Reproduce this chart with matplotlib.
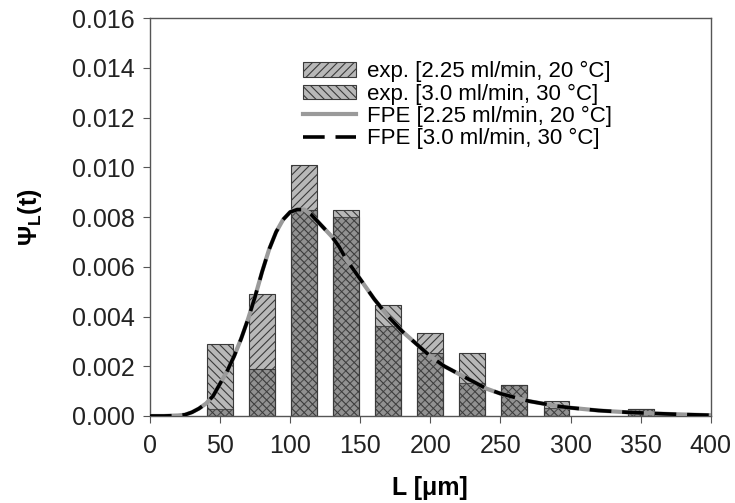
import numpy as np
import matplotlib
matplotlib.use("Agg")
import matplotlib.pyplot as plt

plt.rcParams["font.family"] = ["Liberation Sans", "DejaVu Sans"]
plt.rcParams["mathtext.fontset"] = "custom"
plt.rcParams["mathtext.rm"] = "Liberation Sans"
plt.rcParams["mathtext.bf"] = "Liberation Sans:bold"
plt.rcParams["hatch.linewidth"] = 0.8

# histogram bins (centre of class, µm)
bins = [50, 80, 110, 140, 170, 200, 230, 260, 290, 350]
exp_20 = [0.0003, 0.0049, 0.0101, 0.0080, 0.00362, 0.00333, 0.00133, 0.00125, 0.00032, 0.00030]
exp_30 = [0.0029, 0.0019, 0.0083, 0.0083, 0.00447, 0.00253, 0.00255, 0.00125, 0.00062, 0.00030]

# FPE model curves
L_fpe = [0, 10, 20, 25, 30, 35, 40, 45, 50, 55, 60, 65, 70, 75, 80, 85, 90, 95,
         100, 105, 110, 115, 120, 125, 130, 135, 140, 145, 150, 160, 170, 180,
         190, 200, 210, 220, 230, 240, 250, 260, 270, 280, 290, 300, 320, 340,
         360, 380, 400]
fpe_20 = [0, 0, 0.00002, 0.00005, 0.00015, 0.0003, 0.0005, 0.0008, 0.0013, 0.0018,
          0.0024, 0.0031, 0.0039, 0.0048, 0.0058, 0.0067, 0.0074, 0.0079, 0.0082,
          0.0083, 0.0083, 0.0081, 0.0078, 0.0075, 0.0072, 0.0068, 0.0063, 0.0059,
          0.0055, 0.0047, 0.0040, 0.0034, 0.0029, 0.0024, 0.0020, 0.0017, 0.0014,
          0.0011, 0.0009, 0.00075, 0.0006, 0.0005, 0.0004, 0.00033, 0.00022,
          0.00015, 0.0001, 0.00006, 0.00003]
fpe_30 = list(fpe_20)

labels = ["exp. [2.25 ml/min, 20 °C]", "exp. [3.0 ml/min, 30 °C]",
          "FPE [2.25 ml/min, 20 °C]", "FPE [3.0 ml/min, 30 °C]"]

fig = plt.figure(figsize=(7.35, 5.03), dpi=100)
ax = fig.add_axes([0.204, 0.173, 0.763, 0.791])

face = (0.39, 0.39, 0.39, 0.45)
b1 = ax.bar(bins, exp_20, width=18.5, facecolor=face, edgecolor="#3a3a3a",
            hatch="////", linewidth=0.8, label=labels[0], zorder=2)
b2 = ax.bar(bins, exp_30, width=18.5, facecolor=face, edgecolor="#3a3a3a",
            hatch="\\\\\\\\", linewidth=0.8, label=labels[1], zorder=2)
l1, = ax.plot(L_fpe, fpe_20, color="#9a9a9a", lw=3, label=labels[2], zorder=3)
l2, = ax.plot(L_fpe, fpe_30, color="black", lw=2.6, dashes=(6, 3),
              label=labels[3], zorder=4)

ax.set_xlim(0, 400)
ax.set_ylim(0, 0.016)
ax.set_xticks(np.arange(0, 401, 50))
ax.set_yticks(np.arange(0, 0.0161, 0.002))
ax.yaxis.set_major_formatter(matplotlib.ticker.FormatStrFormatter("%.3f"))
ax.tick_params(direction="out", length=5, width=0.8, labelsize=18, pad=6,
               colors="#555555", labelcolor="#222222")
ax.tick_params(axis="x", pad=8)
for s in ax.spines.values():
    s.set_color("#555555")
    s.set_linewidth(1)

ax.set_xlabel("L [μm]", fontsize=18, fontweight="bold", labelpad=13)
ax.set_ylabel(r"$\mathbf{\Psi_L(t)}$", fontsize=18, labelpad=20)

leg = ax.legend(handles=[b1, b2, l1, l2], loc="upper left",
                bbox_to_anchor=(0.257, 0.914), frameon=False, fontsize=16,
                handlelength=2.4, handleheight=0.6, labelspacing=0.05,
                handletextpad=0.5, borderaxespad=0)

fig.savefig("out.png", dpi=100)
